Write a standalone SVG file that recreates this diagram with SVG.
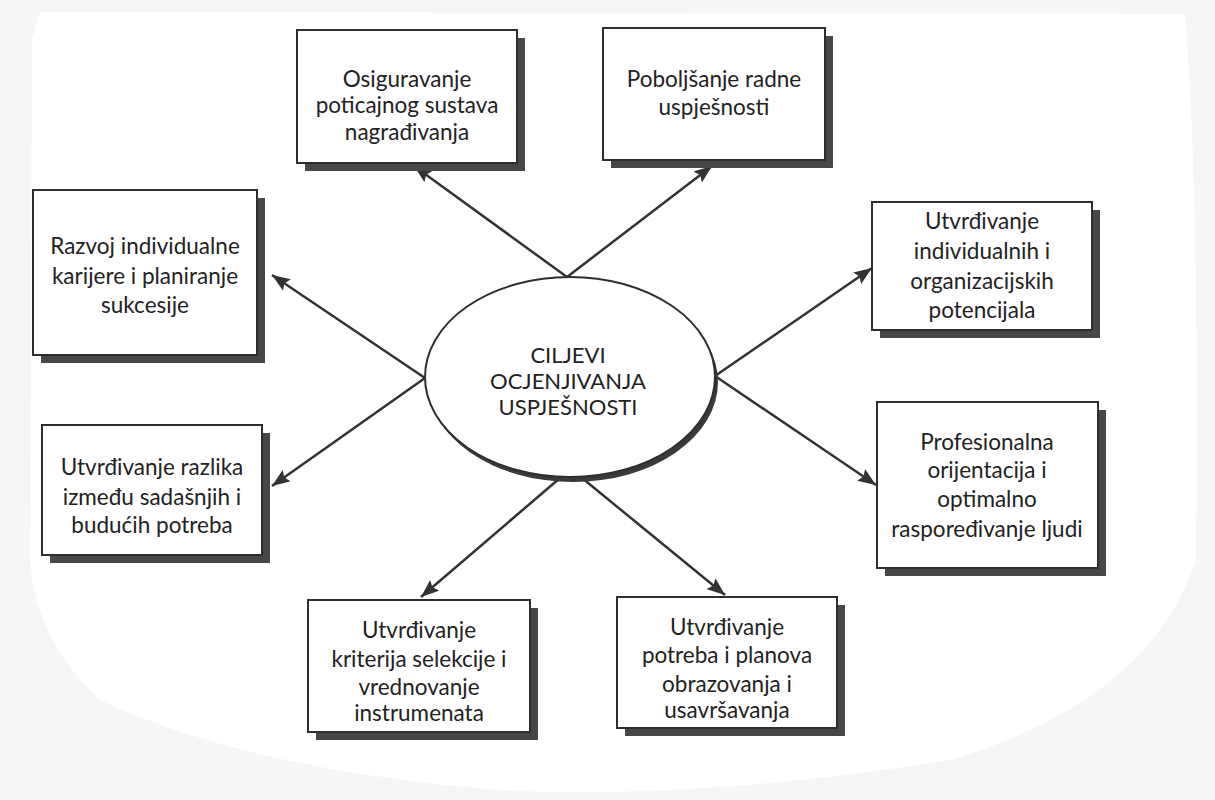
<svg xmlns="http://www.w3.org/2000/svg" width="1215" height="800" viewBox="0 0 1215 800">
  <style>
    .box { fill: #ffffff; stroke: #2e2e2e; stroke-width: 2; }
    .shadow { fill: #474747; }
    .lbl { font-family: Lato, "Open Sans", sans-serif; font-size: 22.5px; fill: #222222; text-anchor: middle; }
    .core { font-family: Lato, "Open Sans", sans-serif; font-size: 22px; fill: #222222; text-anchor: middle; }
    .conn { stroke: #333333; stroke-width: 2.5; fill: none; marker-end: url(#arrow); }
  </style>
  <defs>
    <marker id="arrow" markerUnits="userSpaceOnUse" markerWidth="20" markerHeight="14" refX="18" refY="7" orient="auto">
      <path d="M0,0 L18,7 L0,14 L3,7 z" fill="#333333"/>
    </marker>
  </defs>

  <rect x="0" y="0" width="1215" height="800" fill="#f6f6f6"/>
  <path d="M40,12 L1185,14 Q1200,200 1196,560 Q1150,700 950,760 Q700,800 500,790 Q250,770 100,700 Q35,640 30,560 L32,40 Z" fill="#ffffff"/>

  <g id="connectors">
    <line class="conn" x1="567" y1="277" x2="414" y2="166"/>
    <line class="conn" x1="567" y1="277" x2="712" y2="166"/>
    <line class="conn" x1="425" y1="378" x2="272" y2="275"/>
    <line class="conn" x1="715" y1="376" x2="872" y2="268"/>
    <line class="conn" x1="425" y1="378" x2="272" y2="486"/>
    <line class="conn" x1="715" y1="376" x2="876" y2="485"/>
    <line class="conn" x1="560" y1="478" x2="421" y2="597"/>
    <line class="conn" x1="582" y1="478" x2="725" y2="595"/>
  </g>

  <g id="center">
    <ellipse cx="573" cy="382" rx="145" ry="100" fill="#3a3a3a"/>
    <ellipse cx="570" cy="377" rx="145" ry="100" fill="#ffffff" stroke="#2e2e2e" stroke-width="2"/>
    <text class="core" x="568" y="363">CILJEVI</text>
    <text class="core" x="568" y="389">OCJENJIVANJA</text>
    <text class="core" x="568" y="415">USPJEŠNOSTI</text>
  </g>

  <g id="n1">
    <rect class="shadow" x="305" y="38" width="220" height="133"/>
    <rect class="box" x="297" y="30" width="220" height="133"/>
    <text class="lbl" x="407" y="87">Osiguravanje</text>
    <text class="lbl" x="407" y="113">poticajnog sustava</text>
    <text class="lbl" x="407" y="140">nagrađivanja</text>
  </g>

  <g id="n2">
    <rect class="shadow" x="611" y="36" width="222" height="132"/>
    <rect class="box" x="603" y="28" width="222" height="132"/>
    <text class="lbl" x="714" y="87">Poboljšanje radne</text>
    <text class="lbl" x="714" y="115">uspješnosti</text>
  </g>

  <g id="n3">
    <rect class="shadow" x="41" y="198" width="224" height="165"/>
    <rect class="box" x="33" y="190" width="224" height="165"/>
    <text class="lbl" x="145" y="254">Razvoj individualne</text>
    <text class="lbl" x="145" y="284">karijere i planiranje</text>
    <text class="lbl" x="145" y="313">sukcesije</text>
  </g>

  <g id="n4">
    <rect class="shadow" x="880" y="210" width="220" height="128"/>
    <rect class="box" x="872" y="202" width="220" height="128"/>
    <text class="lbl" x="982" y="229">Utvrđivanje</text>
    <text class="lbl" x="982" y="259">individualnih i</text>
    <text class="lbl" x="982" y="289">organizacijskih</text>
    <text class="lbl" x="982" y="318">potencijala</text>
  </g>

  <g id="n5">
    <rect class="shadow" x="50" y="433" width="220" height="130"/>
    <rect class="box" x="42" y="425" width="220" height="130"/>
    <text class="lbl" x="152" y="475">Utvrđivanje razlika</text>
    <text class="lbl" x="152" y="505">između sadašnjih i</text>
    <text class="lbl" x="152" y="533">budućih potreba</text>
  </g>

  <g id="n6">
    <rect class="shadow" x="885" y="410" width="221" height="166"/>
    <rect class="box" x="877" y="402" width="221" height="166"/>
    <text class="lbl" x="987" y="450">Profesionalna</text>
    <text class="lbl" x="987" y="478">orijentacija i</text>
    <text class="lbl" x="987" y="507">optimalno</text>
    <text class="lbl" x="987" y="537">raspoređivanje ljudi</text>
  </g>

  <g id="n7">
    <rect class="shadow" x="316" y="608" width="222" height="132"/>
    <rect class="box" x="308" y="600" width="222" height="132"/>
    <text class="lbl" x="419" y="638">Utvrđivanje</text>
    <text class="lbl" x="419" y="667">kriterija selekcije i</text>
    <text class="lbl" x="419" y="695">vrednovanje</text>
    <text class="lbl" x="419" y="721">instrumenata</text>
  </g>

  <g id="n8">
    <rect class="shadow" x="625" y="605" width="220" height="131"/>
    <rect class="box" x="617" y="597" width="220" height="131"/>
    <text class="lbl" x="727" y="635">Utvrđivanje</text>
    <text class="lbl" x="727" y="663">potreba i planova</text>
    <text class="lbl" x="727" y="692">obrazovanja i</text>
    <text class="lbl" x="727" y="718">usavršavanja</text>
  </g>
</svg>
